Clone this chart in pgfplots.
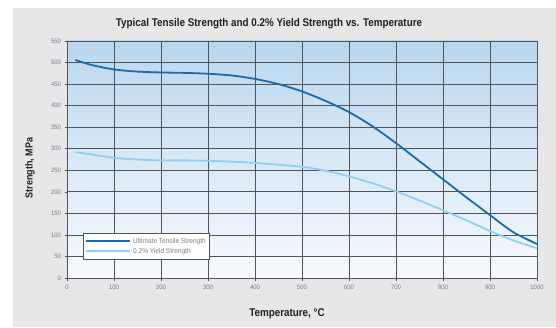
\documentclass[border=0pt]{standalone}
\usepackage{pgfplots}
\pgfplotsset{compat=1.18}
\usepackage{fontspec}
\setmainfont{Liberation Sans}
\newfontfamily\condensed{Liberation Sans}[FakeStretch=0.88]
\newfontfamily\ticksfont{Liberation Sans}[FakeStretch=0.92]
\definecolor{panel}{HTML}{E7E7EA}
\definecolor{uts}{HTML}{1B6BAA}
\definecolor{ys}{HTML}{92CFF0}
\definecolor{gridc}{HTML}{50555A}
\definecolor{tickc}{HTML}{7A7D80}
\definecolor{topblue}{HTML}{BAD7EF}
\definecolor{botblue}{HTML}{F7FAFD}
\begin{document}
\begin{tikzpicture}[x=1pt,y=1pt]
\fill[white] (0,0) rectangle (556,327);
\fill[panel] (13,0) rectangle (556,319);
\node[font=\condensed\bfseries\fontsize{11.2}{12}\selectfont, text=black!88] at (269,303) {Typical Tensile Strength and 0.2\% Yield Strength vs. Temperature};
\node[font=\condensed\bfseries\fontsize{10.2}{12}\selectfont, text=black!88, rotate=90] at (30,159) {Strength, MPa};
\node[font=\condensed\bfseries\fontsize{11.2}{12}\selectfont, text=black!88] at (287,13) {Temperature, \textdegree C};
\begin{axis}[
  at={(67pt,49pt)}, anchor=south west,
  scale only axis, width=470pt, height=237pt,
  xmin=0, xmax=1000, ymin=0, ymax=550,
  xtick={0,100,...,1000}, ytick={0,50,...,550},
  grid=major,
  major grid style={gridc, line width=0.8pt},
  axis line style={gridc, line width=0.8pt},
  tick align=outside, major tick length=2.5pt,
  tick style={gridc, line width=0.6pt},
  xtick pos=bottom, ytick pos=left,
  /pgf/number format/assume math mode=true,
  /pgf/number format/1000 sep={},
  ticklabel style={font=\ticksfont\fontsize{6.4}{7}\selectfont, text=tickc},
  xticklabel style={yshift=-0.5pt},
  axis background/.style={shade, top color=topblue, bottom color=botblue},
  legend style={at={(0.034,0.19)}, anchor=north west, draw=gridc, line width=0.8pt, fill=white,
    font=\ticksfont\fontsize{7.1}{7}\selectfont, text=tickc, inner xsep=2pt, inner ysep=2.5pt,
    row sep=-0.5pt},
  legend cell align=left,
  legend image code/.code={\path (0pt,0pt) -- (44pt,0pt); \draw[#1, line width=1.8pt] (3pt,0pt) -- (38pt,0pt);},
]
\addplot[uts, line width=1.8pt, smooth] coordinates {
(18,506) (50,495) (100,484) (150,479) (200,477) (250,476) (300,474) (350,470) (400,462) (450,450) (500,433) (550,411) (600,385) (650,352) (700,313) (750,271) (800,229) (850,187) (900,146) (950,106) (1000,79)};
\addlegendentry{Ultimate Tensile Strength}
\addplot[ys, line width=1.8pt, smooth] coordinates {
(18,292) (50,287) (100,279) (150,275) (200,273) (250,273) (300,272) (350,270) (400,267) (450,263) (500,258) (550,249) (600,236) (650,220) (700,201) (750,180) (800,157) (850,134) (900,109) (950,87) (1000,69)};
\addlegendentry{0.2\% Yield Strength}
\end{axis}
\pgfresetboundingbox
\useasboundingbox (0,0) rectangle (556,327);
\end{tikzpicture}
\end{document}
